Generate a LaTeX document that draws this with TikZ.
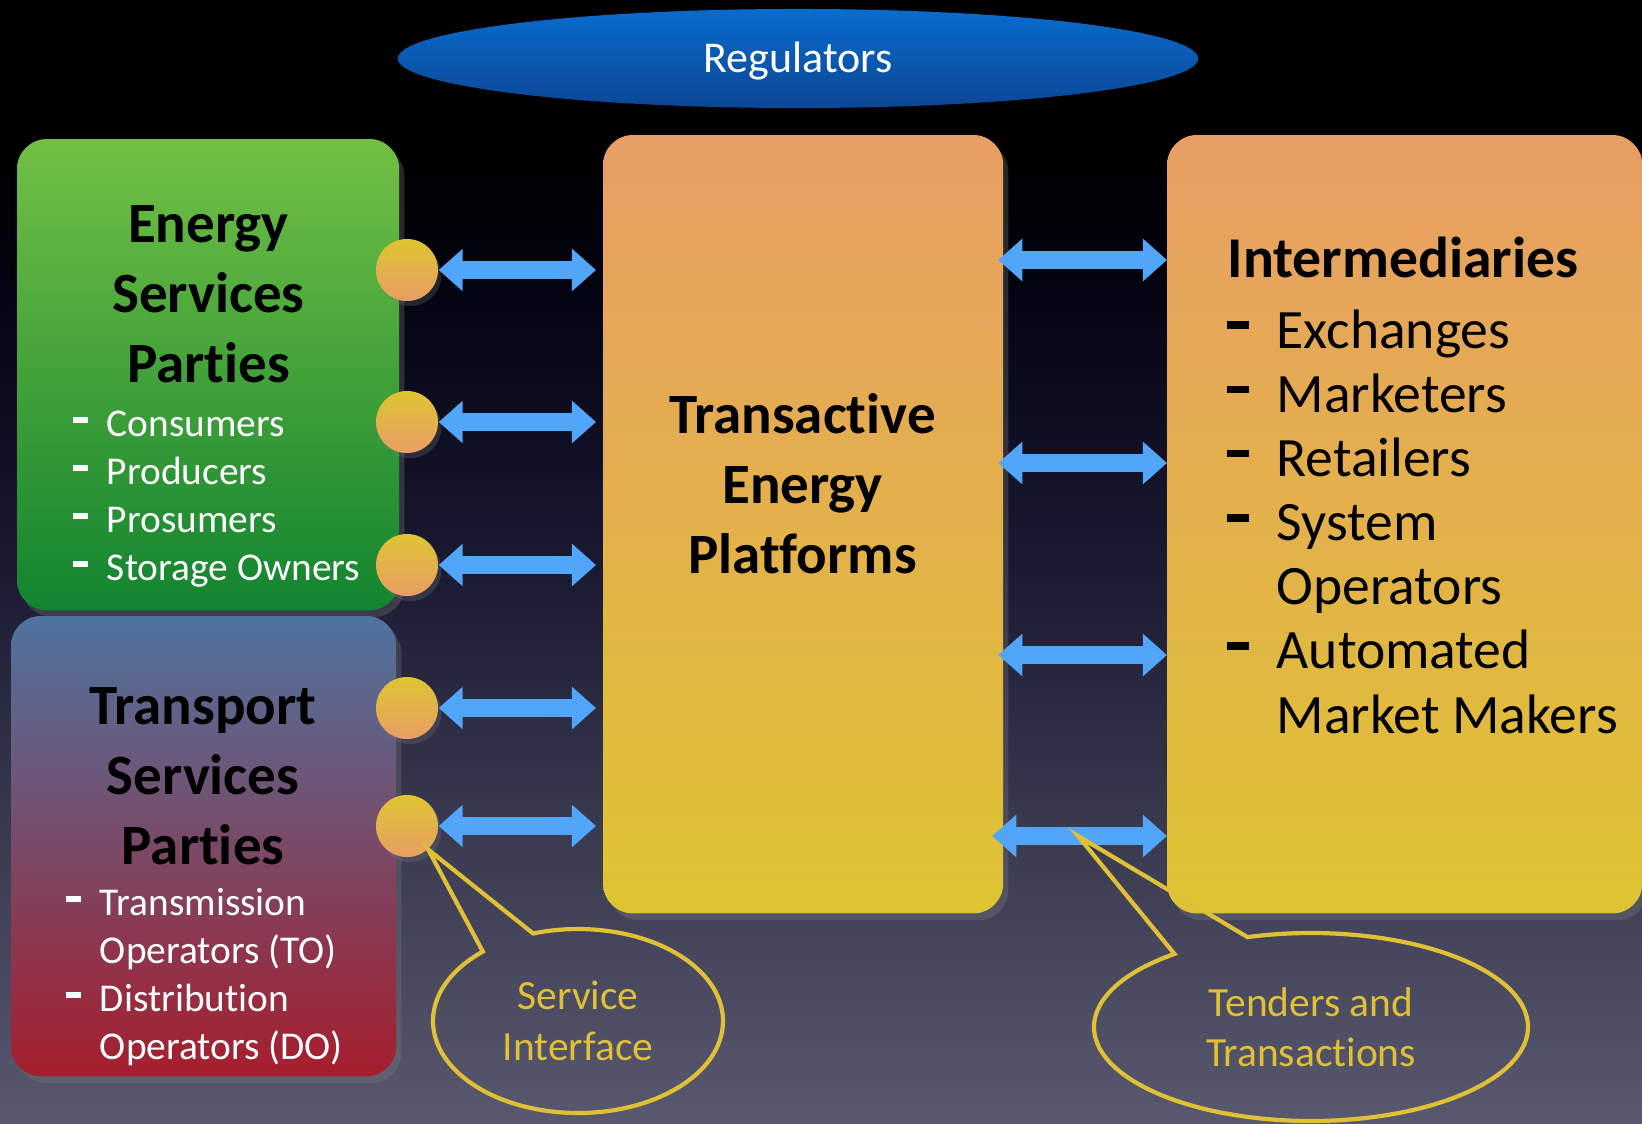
\documentclass[tikz,border=0pt]{standalone}
\usepackage{fontspec}
\setmainfont{Carlito}[Ligatures={NoCommon,NoRequired}, Contextuals=NoAlternate]
\usetikzlibrary{arrows.meta,shapes.geometric,shadows}

\definecolor{bgbot}{RGB}{88,88,110}
\definecolor{bglow}{RGB}{55,55,78}
\definecolor{bgmid}{RGB}{25,25,50}
\definecolor{bgtop}{RGB}{4,4,18}
\definecolor{greentop}{RGB}{114,192,68}
\definecolor{greenbot}{RGB}{18,132,48}
\definecolor{tsptop}{RGB}{78,116,160}
\definecolor{tspmid}{RGB}{124,88,126}
\definecolor{tspbot}{RGB}{166,30,45}
\definecolor{ambertop}{RGB}{232,158,100}
\definecolor{amberbot}{RGB}{222,196,50}
\definecolor{regtop}{RGB}{8,108,205}
\definecolor{regbot}{RGB}{12,70,150}
\definecolor{arrowblue}{RGB}{82,166,250}
\definecolor{callyellow}{RGB}{224,192,54}

\pgfdeclareverticalshading{bgfade}{100bp}{color(0bp)=(bgbot); color(25bp)=(bgbot);
  color(39bp)=(bglow); color(50bp)=(bgmid); color(62bp)=(bgtop); color(68bp)=(black);
  color(100bp)=(black)}

\newcommand{\fsz}[2]{\fontsize{#1}{#2}\selectfont}
\newcommand{\bdash}{\rule[0.34em]{0.4em}{0.14em}}

\begin{document}
\begin{tikzpicture}[x=0.01cm, y=-0.01cm,
    box/.style={rounded corners=0.3cm, inner sep=0, outer sep=0, anchor=north west,
      drop shadow={opacity=0.3, shadow xshift=0.3ex, shadow yshift=-0.4ex}},
    port/.style={circle, minimum size=0.62cm, inner sep=0, top color=amberbot,
      bottom color=ambertop, drop shadow={opacity=0.25, shadow xshift=0.2ex, shadow yshift=-0.3ex}},
    head/.style={anchor=base, inner sep=0, font=\fsz{16.2}{20}\bfseries},
    items/.style={anchor=base west, inner sep=0, font=\fsz{11.2}{13.66}},
    duplex/.style={draw=arrowblue, line width=0.18cm,
      >={Triangle[width=0.41cm,length=0.24cm]}, <->},
    bubble/.style={ellipse, inner sep=0, align=center, text=callyellow,
      font=\fsz{11.8}{14.3}},
    callout/.style={draw=callyellow, line width=1.2pt}]

  \useasboundingbox (0,0) rectangle (1642,1124);
  \shade[shading=bgfade] (0,0) rectangle (1642,1124);

  % regulators on top
  \node[ellipse, minimum width=8cm, minimum height=0.99cm, inner sep=0,
    top color=regtop, bottom color=regbot, text=white, font=\fsz{12.5}{15},
    text height=10.7pt, text depth=2.5pt]
    (reg) at (798,58.5) {Regulators};

  % the four blocks
  \node[box, minimum width=3.82cm, minimum height=4.71cm,
    top color=greentop, bottom color=greenbot] (esp) at (17,139) {};
  \node[box, minimum width=3.85cm, minimum height=4.60cm,
    top color=tsptop, middle color=tspmid, bottom color=tspbot] (tsp) at (11,616) {};
  \node[box, minimum width=4.00cm, minimum height=7.78cm,
    top color=ambertop, bottom color=amberbot] (plat) at (603,135) {};
  \node[box, minimum width=4.75cm, minimum height=7.78cm,
    top color=ambertop, bottom color=amberbot] (inter) at (1167,135) {};

  % texts
  \node[head] (esphead) at (208.5,242)
    {\begin{tabular}[t]{@{}c@{}}Energy\\Services\\Parties\end{tabular}};
  \node[items, text=white] (esplist) at (72,436)
    {\begin{tabular}[t]{@{}l@{\hspace{0.47em}}l@{}}
      \bdash & Consumers\\ \bdash & Producers\\
      \bdash & Prosumers\\ \bdash & Storage Owners
    \end{tabular}};
  \node[head] (tsphead) at (203,724)
    {\begin{tabular}[t]{@{}c@{}}Transport\\Services\\Parties\end{tabular}};
  \node[items, text=white] (tsplist) at (65,915)
    {\begin{tabular}[t]{@{}l@{\hspace{0.47em}}l@{}}
      \bdash & Transmission\\ & Operators (TO)\\
      \bdash & Distribution\\ & Operators (DO)
    \end{tabular}};
  \node[head] (plathead) at (802.5,433)
    {\begin{tabular}[t]{@{}c@{}}Transactive\\Energy\\Platforms\end{tabular}};
  \node[anchor=base west, inner sep=0, font=\fsz{16.4}{20}\bfseries]
    (interhead) at (1227,277) {Intermediaries};
  \node[items, font=\fsz{15.8}{18.25}] (interlist) at (1226,348)
    {\begin{tabular}[t]{@{}l@{\hspace{0.5em}}l@{}}
      \bdash & Exchanges\\ \bdash & Marketers\\ \bdash & Retailers\\
      \bdash & System\\ & Operators\\ \bdash & Automated\\ & Market Makers
    \end{tabular}};

  % service interfaces and links
  \foreach \n/\yy in {1/270, 2/422, 3/565, 4/708, 5/826}
    \node[port] (c\n) at (407,\yy) {};
  \foreach \n in {1,...,5}
    \draw[duplex, shorten >=0.07cm] (c\n.east) -- (c\n.east -| plat.west);

  \coordinate (tip) at (1078,836);
  \foreach \yy in {260,463,655}
    \draw[duplex, shorten <=-0.05cm] (plat.east |- 0,\yy) -- (inter.west |- 0,\yy);
  \draw[duplex, shorten <=-0.11cm] (plat.east |- tip) -- (inter.west |- tip);

  % callouts
  \node[bubble, minimum width=2.9cm, minimum height=1.84cm] (svc) at (578,1021)
    {Service\\Interface};
  \draw[callout] ([shift={(-108:145 and 92)}]svc.center) -- (c5.-48)
    -- ([shift={(-131:145 and 92)}]svc.center)
    arc[start angle=-131, end angle=-468, x radius=145, y radius=92] -- cycle;

  \node[bubble, minimum width=4.34cm, minimum height=1.88cm] (tnd) at (1311,1027)
    {Tenders and\\Transactions};
  \draw[callout] ([shift={(-107:217 and 94)}]tnd.center) -- (tip)
    -- ([shift={(-129:217 and 94)}]tnd.center)
    arc[start angle=-129, end angle=-467, x radius=217, y radius=94] -- cycle;
\end{tikzpicture}
\end{document}
